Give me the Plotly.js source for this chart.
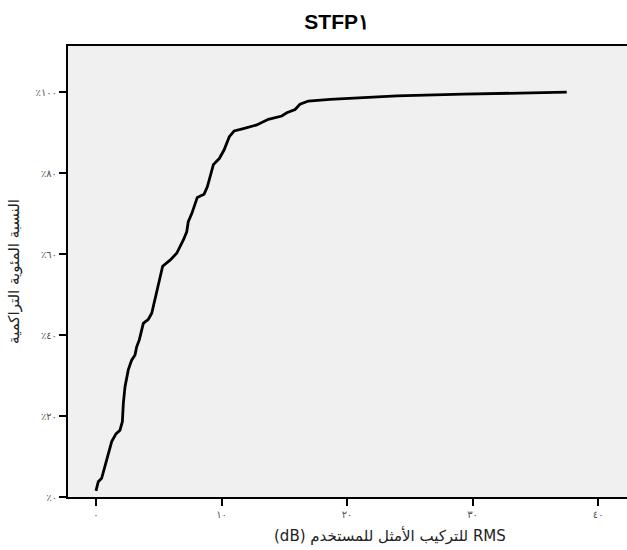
<!DOCTYPE html>
<html>
<head>
<meta charset="utf-8">
<script src="https://cdn.plot.ly/plotly-3.0.1.min.js"></script>
<style>
  html, body { margin: 0; padding: 0; background: #ffffff; }
  #chart { width: 627px; height: 550px; }
</style>
</head>
<body>
<div id="chart"></div>
<script>
// Cumulative percentage against optimal-fit RMS (dB)
const rmsValues = [0.0, 0.18, 0.45, 0.85, 1.25, 1.59, 1.91, 2.10, 2.18, 2.31, 2.57, 2.84, 3.11, 3.24, 3.45, 3.77, 4.17, 4.44, 4.70, 4.96, 5.31, 5.90, 6.43, 6.96, 7.23, 7.35, 7.63, 8.07, 8.61, 8.87, 9.35, 9.82, 10.20, 10.62, 11.00, 11.74, 12.80, 13.73, 14.80, 15.20, 15.86, 16.25, 16.92, 18.65, 23.96, 29.27, 37.5];
const cumulativePct = [1.5, 3.8, 4.6, 9.1, 13.7, 15.6, 16.5, 18.6, 23.2, 27.2, 31.4, 33.8, 35.1, 37.1, 38.8, 42.9, 43.9, 45.4, 49.1, 52.8, 57.0, 58.5, 60.2, 63.5, 65.5, 68.0, 70.0, 74.0, 74.8, 76.6, 82.1, 83.6, 85.7, 89.0, 90.4, 91.0, 91.9, 93.3, 94.1, 94.9, 95.7, 97.0, 97.8, 98.2, 99.1, 99.5, 100.0];

const xTickVals = [0, 10, 20, 30, 40];
const xTickText = ['٠', '١٠', '٢٠', '٣٠', '٤٠'];
const yTickVals = [0, 20, 40, 60, 80, 100];
const yTickText = ['٪٠', '٪٢٠', '٪٤٠', '٪٦٠', '٪٨٠', '٪١٠٠'];

const chartTitle = 'STFP١';
const xTitle = '\u202BRMS للتركيب الأمثل للمستخدم (dB)\u202C';
const yTitle = 'النسبة المئوية التراكمية';

const trace = {
  x: rmsValues,
  y: cumulativePct,
  type: 'scatter',
  mode: 'lines',
  line: { color: '#000000', width: 2.8 },
  hoverinfo: 'skip'
};

const layout = {
  width: 627,
  height: 550,
  margin: { l: 68, r: 0, t: 46, b: 53 },
  paper_bgcolor: '#ffffff',
  plot_bgcolor: '#f0f0f0',
  showlegend: false,
  font: { family: 'DejaVu Sans, sans-serif', color: '#222222' },
  title: {
    text: chartTitle,
    font: { family: 'Liberation Sans, Arial, sans-serif', size: 21, color: '#000000', weight: 'bold' },
    x: 0.537, xanchor: 'center',
    y: 0.96, yanchor: 'middle'
  },
  xaxis: {
    range: [-2.23, 42.3],
    tickvals: xTickVals,
    ticktext: xTickText,
    ticks: 'outside', ticklen: 7, tickwidth: 2, tickcolor: '#000000',
    tickfont: { size: 10, color: '#555555' },
    showline: true, linecolor: '#000000', linewidth: 2, mirror: true,
    showgrid: false, zeroline: false, fixedrange: true
  },
  yaxis: {
    range: [0, 111.4],
    tickvals: yTickVals,
    ticktext: yTickText,
    ticks: 'outside', ticklen: 7, tickwidth: 2, tickcolor: '#000000',
    tickfont: { size: 10, color: '#555555' },
    showline: true, linecolor: '#000000', linewidth: 2, mirror: false,
    showgrid: false, zeroline: false, fixedrange: true,
    title: { text: yTitle, font: { size: 15, color: '#222222' }, standoff: 12 }
  },
  annotations: [{
    text: xTitle,
    xref: 'paper', yref: 'paper',
    x: 0.576, y: -0.085,
    xanchor: 'center', yanchor: 'middle',
    showarrow: false,
    font: { size: 15, color: '#222222' }
  }]
};

Plotly.newPlot('chart', [trace], layout, { displayModeBar: false, staticPlot: true });
</script>
</body>
</html>
